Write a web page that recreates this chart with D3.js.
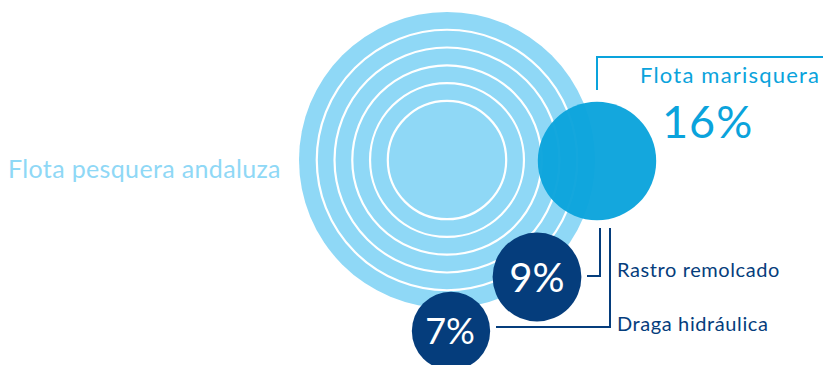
<!DOCTYPE html>
<html>
<head>
<meta charset="utf-8">
<script src="https://cdn.jsdelivr.net/npm/d3@7"></script>
<style>
  body { margin: 0; background: #fff; }
  svg { display: block; font-family: Lato, "Open Sans", sans-serif; }
</style>
</head>
<body>
<div id="viz"></div>
<script>
// data
var totalLabel = "Flota pesquera andaluza";
var totalValue = 100;
var categories = ["Flota marisquera", "Rastro remolcado", "Draga hidráulica"];
var values = [16, 9, 7];
var valueLabels = ["16%", "9%", "7%"];

var width = 823, height = 365;
var lightBlue = "#8fd8f6", midBlue = "#0aa3dc", navy = "#053d7c";

var svg = d3.select("#viz").append("svg")
  .attr("width", width)
  .attr("height", height);

// circle area proportional to share
var r = d3.scaleSqrt().domain([0, totalValue]).range([0, 148]);

// centre of the big circle
var cx = 447, cy = 160;

svg.append("circle")
  .attr("cx", cx).attr("cy", cy)
  .attr("r", r(totalValue))
  .style("fill", lightBlue);

// decorative white rings
var inner = r(values[0]), outer = r(totalValue) * 0.88;
var rings = d3.range(5).map(function(i) { return inner + i * (outer - inner) / 4; });
svg.selectAll("circle.ring").data(rings).enter().append("circle")
  .attr("class", "ring")
  .attr("cx", cx).attr("cy", cy)
  .attr("r", function(d) { return d; })
  .style("fill", "none")
  .style("stroke", "#fff")
  .style("stroke-width", 2.2);

svg.append("text")
  .attr("x", 8).attr("y", 178)
  .style("font-size", "25px")
  .style("letter-spacing", "0.35px")
  .style("fill", lightBlue)
  .text(totalLabel);

// small circles
var pos = [
  { x: 597, y: 161, fill: midBlue, op: 0.96 },
  { x: 537, y: 277, fill: navy, op: 1 },
  { x: 451, y: 331, fill: navy, op: 1 }
];

svg.selectAll("circle.part").data(values).enter().append("circle")
  .attr("class", "part")
  .attr("cx", function(d, i) { return pos[i].x; })
  .attr("cy", function(d, i) { return pos[i].y; })
  .attr("r", function(d) { return r(d); })
  .style("fill", function(d, i) { return pos[i].fill; })
  .style("opacity", function(d, i) { return pos[i].op; });

// connector lines
var lines = [
  { d: "M597,90V57H823", c: midBlue },
  { d: "M587,276H600V228", c: navy },
  { d: "M496,327H610V228", c: navy }
];
svg.selectAll("path.conn").data(lines).enter().append("path")
  .attr("d", function(d) { return d.d; })
  .style("fill", "none")
  .style("stroke", function(d) { return d.c; })
  .style("stroke-width", 2);

// labels
svg.append("text")
  .attr("x", 640).attr("y", 83)
  .style("font-size", "22px")
  .style("letter-spacing", "1.2px")
  .style("fill", midBlue)
  .text(categories[0]);

svg.append("text")
  .attr("x", 662).attr("y", 138)
  .style("font-size", "45px")
  .style("letter-spacing", "1px")
  .style("fill", midBlue)
  .text(valueLabels[0]);

svg.append("text")
  .attr("x", 617).attr("y", 277)
  .style("font-size", "20px")
  .style("letter-spacing", "0.6px")
  .style("fill", navy)
  .text(categories[1]);

svg.append("text")
  .attr("x", 617).attr("y", 331)
  .style("font-size", "20px")
  .style("letter-spacing", "0.6px")
  .style("fill", navy)
  .text(categories[2]);

svg.append("text")
  .attr("x", pos[1].x).attr("y", 292)
  .attr("text-anchor", "middle")
  .style("font-size", "40px")
  .style("fill", "#fff")
  .text(valueLabels[1]);

svg.append("text")
  .attr("x", pos[2].x - 1).attr("y", 344)
  .attr("text-anchor", "middle")
  .style("font-size", "36px")
  .style("fill", "#fff")
  .text(valueLabels[2]);
</script>
</body>
</html>
